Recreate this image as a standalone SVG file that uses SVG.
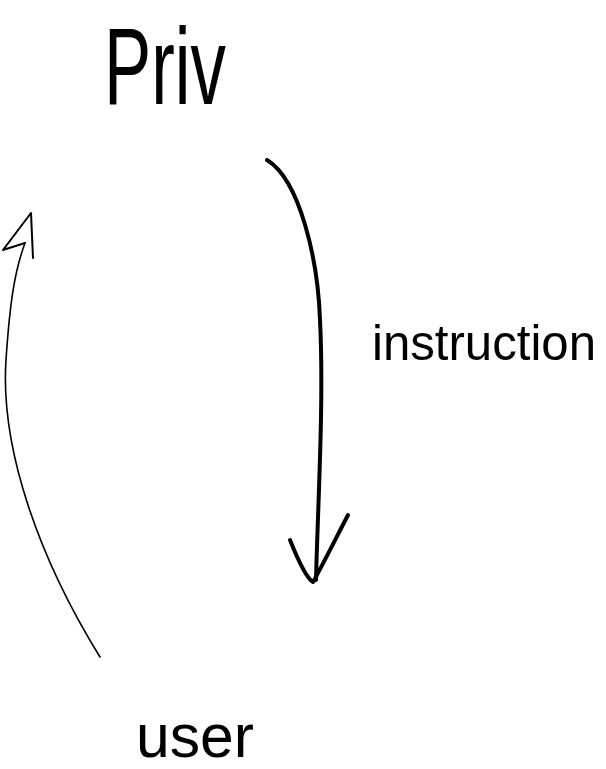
<svg xmlns="http://www.w3.org/2000/svg" width="606" height="769" viewBox="0 0 606 769">
<style>
.t{font-family:"Liberation Sans",Arial,sans-serif;fill:#000}
.c{fill:none;stroke:#000;stroke-linecap:round;stroke-linejoin:round}
</style>
<rect width="606" height="769" fill="#fff"/>
<g id="priv"><text class="t" x="104" y="104" font-size="110" textLength="122" lengthAdjust="spacingAndGlyphs">Priv</text></g>
<g id="user"><text class="t" x="136" y="757" font-size="62" textLength="118" lengthAdjust="spacingAndGlyphs">user</text></g>
<g id="connectors">
<path class="c" stroke-width="4" d="M267,160 C300,180 318,260 320,320 C324,400 318,500 316,580"/>
<path class="c" stroke-width="4" d="M290,540 C298,560 306,578 313,582 C320,570 335,540 348,515"/>
<path class="c" stroke-width="1.6" d="M100,657 C40,560 0,450 6,360 C10,300 15,270 25,243"/>
<path class="c" stroke-width="2" d="M33,258 L31,213 L3,250 L25,243"/>
<text class="t" x="372" y="360" font-size="50" textLength="224" lengthAdjust="spacingAndGlyphs">instruction</text>
</g>
</svg>
